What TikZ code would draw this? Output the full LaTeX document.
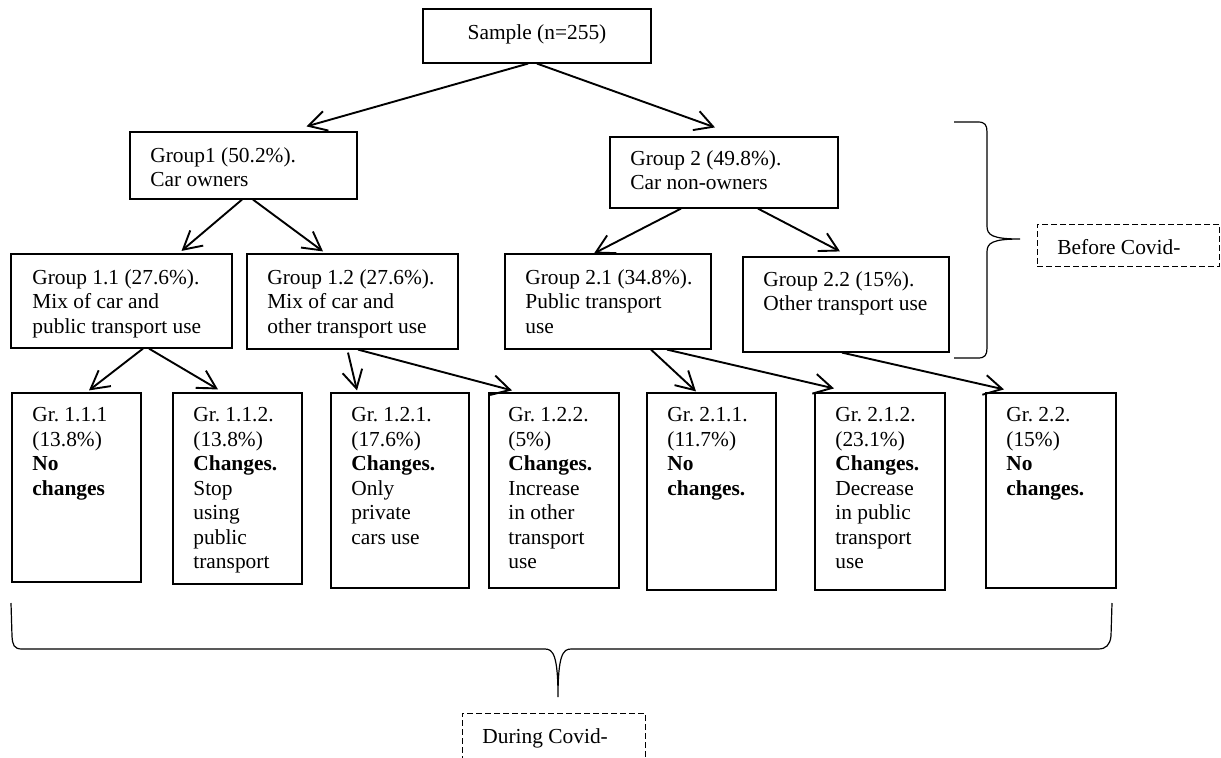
\documentclass[tikz,border=0pt]{standalone}
\usepackage{fontspec}
\setmainfont{Liberation Serif}
\usetikzlibrary{arrows.meta,calc,fit}
\frenchspacing
\begin{document}
\begin{tikzpicture}[x=0.5pt,y=-0.5pt,
  box/.style={draw, line width=0.6pt, inner sep=0pt},
  dbox/.style={draw, line width=0.5pt, dash pattern=on 3pt off 1.5pt, inner sep=0pt},
  txt/.style={align=left, anchor=base west, inner sep=0pt, font=\fontsize{10.7}{12.25}\selectfont},
  mtxt/.style={txt, anchor=north west, execute at begin node={\rule{0pt}{8pt}}},
  arr/.style={line width=0.95pt, -{Straight Barb[length=9pt,width=10pt]}},
  brc/.style={line width=0.6pt}]
\fill[white] (0,0) rectangle (1221,757);
\useasboundingbox (0,0) rectangle (1221,757);

% boxes (first-line baseline = north + 16)
\node[box, fit={(423,9) (651,63)}] (s) {};
\node[txt, anchor=base] (st) at (537,39.5) {Sample (n=255)};

\node[box, fit={(130,132) (357,199)}] (g1) {};
\node[mtxt] (g1t) at (150,147) {Group1 (50.2\%).\\Car owners};
\node[box, fit={(610,137) (838,208)}] (g2) {};
\node[mtxt] (g2t) at (630,150) {Group 2 (49.8\%).\\Car non-owners};

\node[box, fit={(11,254) (232,348)}] (g11) {};
\node[mtxt] (g11t) at (32,269) {Group 1.1 (27.6\%).\\Mix of car and\\public transport use};
\node[box, fit={(247,254) (458,349)}] (g12) {};
\node[mtxt] (g12t) at (267,269) {Group 1.2 (27.6\%).\\Mix of car and\\other transport use};
\node[box, fit={(505,254) (711,349)}] (g21) {};
\node[mtxt] (g21t) at (525,269) {Group 2.1 (34.8\%).\\Public transport\\use};
\node[box, fit={(743,257) (949,352)}] (g22) {};
\node[mtxt] (g22t) at (763,271) {Group 2.2 (15\%).\\Other transport use};

\node[box, fit={(12,393) (141,582)}] (g111) {};
\node[mtxt] (g111t) at (32,407) {Gr. 1.1.1\\(13.8\%)\\\textbf{No}\\\textbf{changes}};
\node[box, fit={(173,393) (302,584)}] (g112) {};
\node[mtxt] (g112t) at (193,407) {Gr. 1.1.2.\\(13.8\%)\\\textbf{Changes.}\\Stop\\using\\public\\transport};
\node[box, fit={(331,393) (469,588)}] (g121) {};
\node[mtxt] (g121t) at (351,407) {Gr. 1.2.1.\\(17.6\%)\\\textbf{Changes.}\\Only\\private\\cars use};
\node[box, fit={(489,393) (619,588)}] (g122) {};
\node[mtxt] (g122t) at (508,407) {Gr. 1.2.2.\\(5\%)\\\textbf{Changes.}\\Increase\\in other\\transport\\use};
\node[box, fit={(647,393) (776,590)}] (g211) {};
\node[mtxt] (g211t) at (667,407) {Gr. 2.1.1.\\(11.7\%)\\\textbf{No}\\\textbf{changes.}};
\node[box, fit={(815,393) (945,590)}] (g212) {};
\node[mtxt] (g212t) at (835,407) {Gr. 2.1.2.\\(23.1\%)\\\textbf{Changes.}\\Decrease\\in public\\transport\\use};
\node[box, fit={(986,393) (1116,588)}] (g22b) {};
\node[mtxt] (g22bt) at (1006,407) {Gr. 2.2.\\(15\%)\\\textbf{No}\\\textbf{changes.}};

% dashed labels
\node[dbox, fit={(1037,224) (1219.5,266)}] (before) {};
\node[txt] (beforet) at (1057,254) {Before Covid-};
\node[dbox, fit={(462,713) (645,790)}] (during) {};
\node[txt] (duringt) at (482,743) {During Covid-};

% arrows
\draw[arr] ($(s.south)+(-9,0)$) -- ($(g1.north)+(63,-5)$);
\draw[arr] (s.south) -- ($(g2.north)+(-9,-9)$);
\draw[arr] ($(g1.south)+(-1.5,0)$) -- ($(g11.north)+(60,-2.5)$);
\draw[arr] ($(g1.south)+(9.5,0)$) -- ($(g12.north)+(-29.5,-2)$);
\draw[arr] ($(g2.south)+(-43,0)$) -- ($(g21.north)+(-14,0)$);
\draw[arr] ($(g2.south)+(34,0)$) -- ($(g22.north)+(-6,-5)$);
\draw[arr] ($(g11.south)+(21.5,0)$) -- ($(g111.north)+(12.5,-2)$);
\draw[arr] ($(g11.south)+(27.5,0)$) -- ($(g112.north)+(-19.5,-3)$);
\draw[arr] ($(g12.south)+(-4.5,3)$) -- ($(g121.north)+(-43,-2)$);
\draw[arr] ($(g12.south)+(5.5,0)$) -- ($(g122.north)+(-42,-2)$);
\draw[arr] ($(g21.south)+(43,0)$) -- ($(g211.north)+(-15.5,-1)$);
\draw[arr] ($(g21.south)+(59,0)$) -- ($(g212.north)+(-46,-4)$);
\draw[arr] ($(g22.south)+(-4,0)$) -- ($(g22b.north)+(-47,-3)$);

% braces
\draw[brc] (954,122) -- (978,122) .. controls (985,122) and (987,125) .. (987,132) -- (987,226)
  .. controls (987,235) and (992,239) .. (1020,239)
  .. controls (992,239) and (987,243) .. (987,252) -- (987,348)
  .. controls (987,355) and (985,358) .. (978,358) -- (954,358);
\draw[brc] (11,603) -- (12,636) .. controls (12.5,645) and (14,649) .. (22,649) -- (545,649)
  .. controls (553,649) and (558,655) .. (558,697)
  .. controls (558,655) and (563,649) .. (571,649) -- (1098,649)
  .. controls (1106,649) and (1110,645) .. (1111,636) -- (1112,603);
\end{tikzpicture}
\end{document}
